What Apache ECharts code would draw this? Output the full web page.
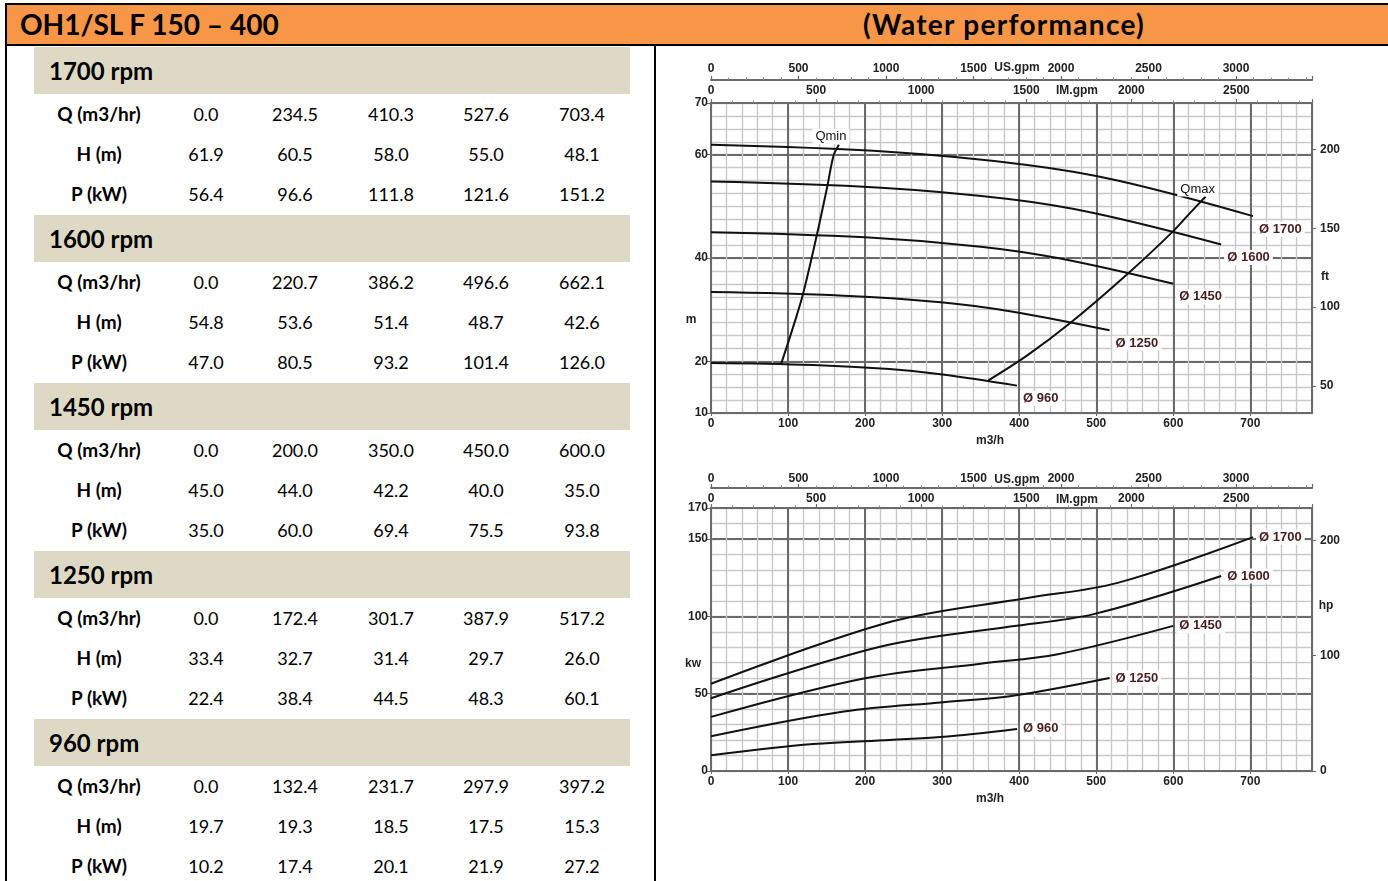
<!DOCTYPE html>
<html>
<head>
<meta charset="utf-8">
<title>OH1/SL F 150 – 400 (Water performance)</title>
<script src="https://cdn.jsdelivr.net/npm/echarts@6/dist/echarts.min.js"></script>
<style>
  html, body { margin: 0; padding: 0; background: #fff; width: 1388px; height: 881px; overflow: hidden; }
  #page { position: relative; width: 1388px; height: 881px; font-family: Lato, "Open Sans", sans-serif; color: #000; }
  .bar { position: absolute; left: 5px; top: 3px; width: 1383px; height: 39px; background: #F79646;
         border-top: 2px solid #000; border-left: 2px solid #000; border-bottom: 2px solid #000; }
  .title { position: absolute; top: 3px; height: 43px; line-height: 43px; font-weight: bold; font-size: 28px; white-space: nowrap; }
  .vline { position: absolute; width: 2px; background: #000; }
  .rpm { position: absolute; left: 34px; width: 596px; height: 47px; line-height: 47px; background: #DDD9C4;
         font-weight: bold; font-size: 24px; box-sizing: border-box; padding-left: 15px; }
  .cell { position: absolute; height: 40px; line-height: 40px; text-align: center; font-size: 18px; white-space: nowrap; }
  .cell.lab { font-weight: bold; font-size: 19px; }
  #chart { position: absolute; left: 0; top: 0; width: 1388px; height: 881px; }
</style>
</head>
<body>
<div id="page">
  <div class="bar"></div>
  <div class="title" style="left:20px;">OH1/SL F 150 – 400</div>
  <div class="title" style="left:804px;width:400px;text-align:center;letter-spacing:1.3px;">(Water performance)</div>
  <div class="vline" style="left:5px;top:45px;height:836px;"></div>
  <div class="vline" style="left:654px;top:45px;height:836px;"></div>
  <div id="table"></div>
  <div id="chart"></div>
</div>
<script>
// Performance points per speed: flow (m3/h), head (m), power (kW)
const rpmTitles = ['1700 rpm', '1600 rpm', '1450 rpm', '1250 rpm', '960 rpm'];
const curveNames = ['Ø 1700', 'Ø 1600', 'Ø 1450', 'Ø 1250', 'Ø 960'];
const rowNames = ['Q (m3/hr)', 'H (m)', 'P (kW)'];

const q1700 = [0.0, 234.5, 410.3, 527.6, 703.4];
const h1700 = [61.9, 60.5, 58.0, 55.0, 48.1];
const p1700 = [56.4, 96.6, 111.8, 121.6, 151.2];

const q1600 = [0.0, 220.7, 386.2, 496.6, 662.1];
const h1600 = [54.8, 53.6, 51.4, 48.7, 42.6];
const p1600 = [47.0, 80.5, 93.2, 101.4, 126.0];

const q1450 = [0.0, 200.0, 350.0, 450.0, 600.0];
const h1450 = [45.0, 44.0, 42.2, 40.0, 35.0];
const p1450 = [35.0, 60.0, 69.4, 75.5, 93.8];

const q1250 = [0.0, 172.4, 301.7, 387.9, 517.2];
const h1250 = [33.4, 32.7, 31.4, 29.7, 26.0];
const p1250 = [22.4, 38.4, 44.5, 48.3, 60.1];

const q960 = [0.0, 132.4, 231.7, 297.9, 397.2];
const h960 = [19.7, 19.3, 18.5, 17.5, 15.3];
const p960 = [10.2, 17.4, 20.1, 21.9, 27.2];

// Operating limits on the head chart
const qminFlow = [91, 105, 119, 137, 151, 159, 166];
const qminHead = [19.5, 25.9, 32.8, 44.2, 53.9, 59.8, 61.9];
const qmaxFlow = [360, 410, 467, 542, 600, 621, 642];
const qmaxHead = [16.3, 21.1, 27.5, 37.1, 45.2, 48.6, 51.9];

// Axis tick labels
const headTicks = [10, 20, 40, 60, 70];
const feetTicks = [50, 100, 150, 200];
const powerTicks = [0, 50, 100, 150, 170];
const hpTicks = [0, 100, 200];

const flowSets = [q1700, q1600, q1450, q1250, q960];
const headSets = [h1700, h1600, h1450, h1250, h960];
const powerSets = [p1700, p1600, p1450, p1250, p960];

// ---------- data table ----------
const table = document.getElementById('table');
const colCenters = [206, 295, 391, 486, 582];
rpmTitles.forEach((t, k) => {
  const top = 47 + 168 * k;
  const hd = document.createElement('div');
  hd.className = 'rpm';
  hd.style.top = top + 'px';
  hd.textContent = t;
  table.appendChild(hd);
  const rows = [flowSets[k], headSets[k], powerSets[k]];
  rows.forEach((vals, r) => {
    const y = top + 47 + 40 * r;
    const lab = document.createElement('div');
    lab.className = 'cell lab';
    lab.style.left = '39px'; lab.style.width = '120px'; lab.style.top = y + 'px';
    lab.textContent = rowNames[r];
    table.appendChild(lab);
    vals.forEach((v, c) => {
      const d = document.createElement('div');
      d.className = 'cell';
      d.style.left = (colCenters[c] - 45) + 'px'; d.style.width = '90px'; d.style.top = y + 'px';
      d.textContent = v.toFixed(1);
      table.appendChild(d);
    });
  });
});

// ---------- charts ----------
const M3H_MAX = 780;
const US_GPM = 4.40287, IM_GPM = 3.66615, FT = 3.28084, HP = 1.34102;
const MINOR = '#c9c9c9', MAJOR = '#6a6a6a', INK = '#222';
const FONT = '"Liberation Sans", Arial, sans-serif';
const tickText = { fontFamily: FONT, fontWeight: 'bold', fontSize: 12, color: INK, formatter: v => String(v) };

const upperRect = { left: 711, top: 103, width: 601, height: 310 };
const lowerRect = { left: 711, top: 508, width: 601, height: 263 };

function gridLayer(gi, interval, min, max, color, width, custom) {
  const ax = {
    type: 'value', gridIndex: gi, min: min, max: max,
    axisLine: { show: false, onZero: false }, axisLabel: { show: false },
    axisTick: { show: false },
    splitLine: { show: true, lineStyle: { color: color, width: width } },
    silent: true
  };
  if (custom) ax.axisTick.customValues = custom; else ax.interval = interval;
  return ax;
}
function frameLine() { return { show: true, onZero: false, lineStyle: { color: MAJOR, width: 2 } }; }
function topFlowAxis(gi, factor, offset, margin) {
  return {
    type: 'value', gridIndex: gi, position: 'top', offset: offset,
    min: 0, max: M3H_MAX * factor, interval: 500,
    axisLine: frameLine(),
    axisTick: { show: true, length: 4, lineStyle: { color: MAJOR, width: 1.2 } },
    minorTick: { show: true, splitNumber: 5, length: 2.5, lineStyle: { color: '#8a8a8a', width: 1 } },
    axisLabel: Object.assign({}, tickText, { margin: margin, showMaxLabel: false }),
    splitLine: { show: false }
  };
}
function bottomFlowAxis(gi) {
  return {
    type: 'value', gridIndex: gi, min: 0, max: M3H_MAX, interval: 100,
    axisLine: frameLine(),
    axisTick: { show: true, length: 3, lineStyle: { color: MAJOR } },
    axisLabel: Object.assign({}, tickText, { margin: 5, showMaxLabel: false }),
    splitLine: { show: false }
  };
}
function sideAxis(gi, pos, min, max, ticks, margin) {
  return {
    type: 'value', gridIndex: gi, position: pos, min: min, max: max,
    axisLine: frameLine(),
    axisTick: { show: true, length: 4, customValues: ticks, lineStyle: { color: MAJOR } },
    axisLabel: Object.assign({}, tickText, { margin: margin, customValues: ticks }),
    splitLine: { show: false }
  };
}

const grids = [upperRect, upperRect, upperRect, lowerRect, lowerRect, lowerRect]
  .map(r => Object.assign({ containLabel: false, outerBoundsMode: 'none' }, r));

const xAxes = [
  gridLayer(0, 20, 0, M3H_MAX, MINOR, 1.4),
  gridLayer(1, 100, 0, M3H_MAX, MAJOR, 2),
  bottomFlowAxis(2),
  topFlowAxis(2, IM_GPM, 0, 6),
  topFlowAxis(2, US_GPM, 23, 5),
  gridLayer(3, 20, 0, M3H_MAX, MINOR, 1.4),
  gridLayer(4, 100, 0, M3H_MAX, MAJOR, 2),
  bottomFlowAxis(5),
  topFlowAxis(5, IM_GPM, 0, 3),
  topFlowAxis(5, US_GPM, 20, 3)
];
const yAxes = [
  gridLayer(0, 2.5, 10, 70, MINOR, 1.4),
  gridLayer(1, null, 10, 70, MAJOR, 2, [20, 40, 60]),
  sideAxis(2, 'left', 10, 70, headTicks, 3),
  sideAxis(2, 'right', 10 * FT, 70 * FT, feetTicks, 8),
  gridLayer(3, 10, 0, 170, MINOR, 1.4),
  gridLayer(4, 50, 0, 170, MAJOR, 2),
  sideAxis(5, 'left', 0, 170, powerTicks, 3),
  sideAxis(5, 'right', 0, 170 * HP, hpTicks, 8)
];

const curveLabel = {
  show: true, position: 'right', distance: 3,
  backgroundColor: '#fff', padding: [1, 3],
  color: '#4a1d1d', fontFamily: FONT, fontWeight: 'bold', fontSize: 13
};

function lineSeries(xi, yi, xs, ys, label, smooth) {
  const data = xs.map((x, i) => {
    const pt = [x, ys[i]];
    return i === xs.length - 1 ? { value: pt, label: label } : pt;
  });
  return {
    type: 'line', xAxisIndex: xi, yAxisIndex: yi, data: data,
    smooth: smooth, symbol: 'circle', symbolSize: 0.1, showSymbol: true,
    lineStyle: { color: '#111', width: 2 }, itemStyle: { color: '#111' },
    label: { show: false }, emphasis: { disabled: true }, silent: true, z: 5
  };
}

const series = [];
curveNames.forEach((name, k) => {
  series.push(lineSeries(2, 2, flowSets[k], headSets[k],
    Object.assign({}, curveLabel, { formatter: name, offset: [0, 13] }), 0.4));
  series.push(lineSeries(7, 6, flowSets[k], powerSets[k],
    Object.assign({}, curveLabel, { formatter: name, offset: [0, 0] }), 0.35));
});
const limitLabel = {
  show: true, position: 'top', distance: 2, backgroundColor: '#fff', padding: [1, 3],
  color: '#111', fontFamily: FONT, fontSize: 13
};
series.push(lineSeries(2, 2, qminFlow, qminHead,
  Object.assign({}, limitLabel, { formatter: 'Qmin', offset: [-8, 1] }), 0.3));
series.push(lineSeries(2, 2, qmaxFlow, qmaxHead,
  Object.assign({}, limitLabel, { formatter: 'Qmax', offset: [-8, 2] }), 0.3));

function txt(x, y, s, align) {
  return { type: 'text', x: x, y: y, silent: true,
    style: { text: s, fill: INK, font: 'bold 12px ' + FONT, textAlign: align || 'center', textVerticalAlign: 'middle' } };
}
const graphics = [
  txt(691, 320, 'm'), txt(990, 441, 'm3/h'), txt(1325, 277, 'ft'),
  txt(1017, 68, 'US.gpm'), txt(1077, 91, 'IM.gpm'),
  txt(693, 664, 'kw'), txt(990, 799, 'm3/h'), txt(1326, 606, 'hp'),
  txt(1017, 480, 'US.gpm'), txt(1077, 500, 'IM.gpm')
];

const chart = echarts.init(document.getElementById('chart'));
chart.setOption({
  animation: false,
  grid: grids,
  xAxis: xAxes,
  yAxis: yAxes,
  series: series,
  graphic: graphics
});
</script>
</body>
</html>
